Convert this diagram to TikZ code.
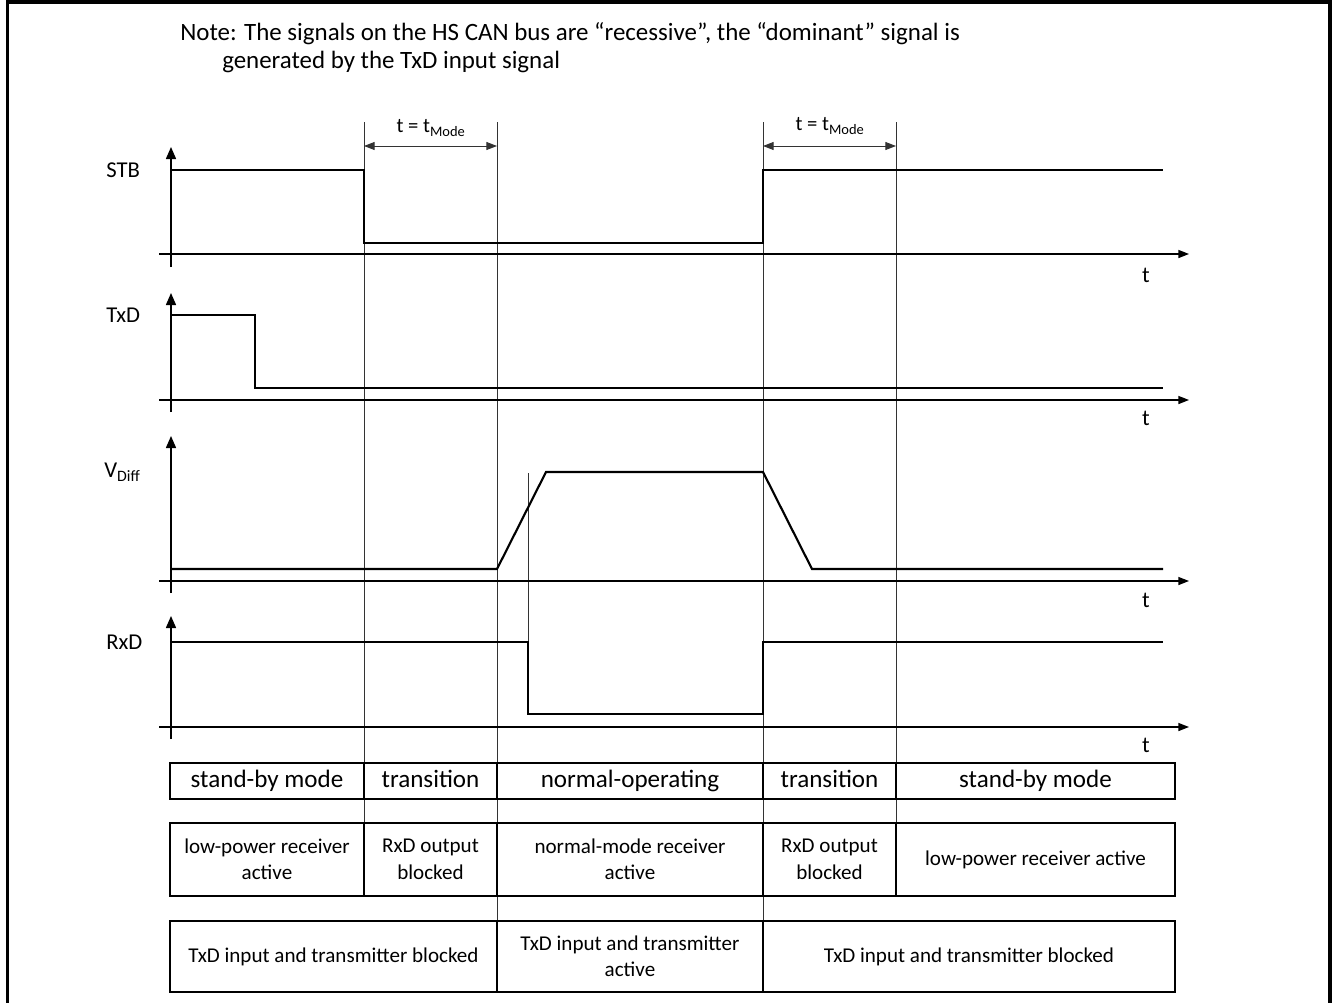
\documentclass[tikz,border=0pt]{standalone}
\usepackage{fontspec}
\setmainfont{Carlito}
\usetikzlibrary{arrows.meta}
\begin{document}
\begin{tikzpicture}[x=0.75pt,y=-0.75pt,
  sig/.style={line width=1.6pt, line join=miter},
  axis/.style={line width=1.1pt},
  yax/.style={axis, -{Triangle[length=9pt,width=7.5pt]}},
  xax/.style={axis, -{Triangle[length=8pt,width=6pt]}},
  mline/.style={line width=0.7pt, draw=black!80},
  dimarrow/.style={line width=0.7pt, draw=black!80, {Triangle[length=8pt,width=6pt]}-{Triangle[length=8pt,width=6pt]}},
  lbl/.style={font=\fontsize{17}{20}\selectfont, anchor=west, inner sep=0},
  tlbl/.style={font=\fontsize{17}{20}\selectfont, inner sep=0},
  dimlbl/.style={font=\fontsize{15.5}{18}\selectfont, inner sep=0},
  notetext/.style={font=\fontsize{18.7}{22}\selectfont, anchor=base west, inner sep=0},
  cell/.style={draw, line width=1.5pt, inner sep=0, align=center, fill=white},
  bigcell/.style={cell, font=\fontsize{18.8}{22}\selectfont, minimum height=27pt, text height=13.5pt, text depth=4pt},
  smallcell/.style={cell, font=\fontsize{15.8}{19.8}\selectfont},
  row2/.style={smallcell, minimum height=54.75pt},
  row3/.style={smallcell, minimum height=53.25pt},
]
\useasboundingbox (0,0) rectangle (1332,1003);
\fill[white] (0,0) rectangle (1332,1003);
% outer frame
\draw[line width=2.3pt] (7.5,1004) -- (7.5,2) -- (1330,2) -- (1330,1004);

% note
\node[notetext] (note1) at (180,40) {Note: The signals on the HS CAN bus are “recessive”, the “dominant” signal is};
\node[notetext] (note2) at (222,68) {generated by the TxD input signal};

% mode boundary lines
\coordinate (m1t) at (364,122); \coordinate (m1b) at (364,823);
\coordinate (m2t) at (497,122); \coordinate (m2b) at (497,921);
\coordinate (m3t) at (763,122); \coordinate (m3b) at (763,921);
\coordinate (m4t) at (896,122); \coordinate (m4b) at (896,823);
\draw[mline] (m1t) -- (m1b);
\draw[mline] (m2t) -- (m2b);
\draw[mline] (m3t) -- (m3b);
\draw[mline] (m4t) -- (m4b);
\coordinate (rxt) at (528,473); \coordinate (rxb) at (528,642);
\draw[mline] (rxt) -- (rxb);

% t_Mode dimensions
\coordinate (d1a) at (364,146); \coordinate (d1b) at (497,146);
\coordinate (d2a) at (763,146); \coordinate (d2b) at (896,146);
\draw[dimarrow] (d1a) -- (d1b);
\draw[dimarrow] (d2a) -- (d2b);
\node[dimlbl] (dl1) at (431,128) {t = t\textsubscript{Mode}};
\node[dimlbl] (dl2) at (830,126) {t = t\textsubscript{Mode}};

% axes
\foreach \nm/\top/\ax/\bot in {stb/147/254/267, txd/293/400/412, vd/436/581/593, rxd/616/727/739}{
  \coordinate (\nm ytop) at (171,\top);
  \coordinate (\nm ybot) at (171,\bot);
  \coordinate (\nm xl) at (159,\ax);
  \coordinate (\nm xr) at (1189,\ax);
  \draw[yax] (\nm ybot) -- (\nm ytop);
  \draw[xax] (\nm xl) -- (\nm xr);
}
\node[tlbl] (t1) at (1146,275) {t};
\node[tlbl] (t2) at (1146,418) {t};
\node[tlbl] (t3) at (1146,600) {t};
\node[tlbl] (t4) at (1146,745) {t};

% signal labels
\node[lbl] (lstb) at (106,170) {STB};
\node[lbl] (ltxd) at (106,315) {TxD};
\node[lbl] (lvd) at (104,472) {V\textsubscript{Diff}};
\node[lbl] (lrxd) at (106,642) {RxD};

% signals
\draw[sig] (171,170) -- (364,170) -- (364,243) -- (763,243) -- (763,170) -- (1163,170);
\draw[sig] (171,315) -- (255,315) -- (255,388) -- (1163,388);
\draw[sig] (171,569) -- (497,569) -- (546,472) -- (763,472) -- (812,569) -- (1163,569);
\draw[sig] (171,642) -- (528,642) -- (528,714) -- (763,714) -- (763,642) -- (1163,642);

% row 1
\node[bigcell, minimum width=145.5pt] (r1a) at (267,781) {stand-by mode};
\node[bigcell, minimum width=99.75pt] (r1b) at (430.5,781) {transition};
\node[bigcell, minimum width=199.5pt] (r1c) at (630,781) {normal-operating};
\node[bigcell, minimum width=99.75pt] (r1d) at (829.5,781) {transition};
\node[bigcell, minimum width=209.25pt] (r1e) at (1035.5,781) {stand-by mode};
% row 2
\node[row2, minimum width=145.5pt] (r2a) at (267,859.5) {low-power receiver\\active};
\node[row2, minimum width=99.75pt] (r2b) at (430.5,859.5) {RxD output\\blocked};
\node[row2, minimum width=199.5pt] (r2c) at (630,859.5) {normal-mode receiver\\active};
\node[row2, minimum width=99.75pt] (r2d) at (829.5,859.5) {RxD output\\blocked};
\node[row2, minimum width=209.25pt] (r2e) at (1035.5,859.5) {low-power receiver active};
% row 3
\node[row3, minimum width=245.25pt] (r3a) at (333.5,956.5) {TxD input and transmitter blocked};
\node[row3, minimum width=199.5pt] (r3b) at (630,956.5) {TxD input and transmitter\\active};
\node[row3, minimum width=309pt] (r3c) at (969,956.5) {TxD input and transmitter blocked};
\end{tikzpicture}
\end{document}
